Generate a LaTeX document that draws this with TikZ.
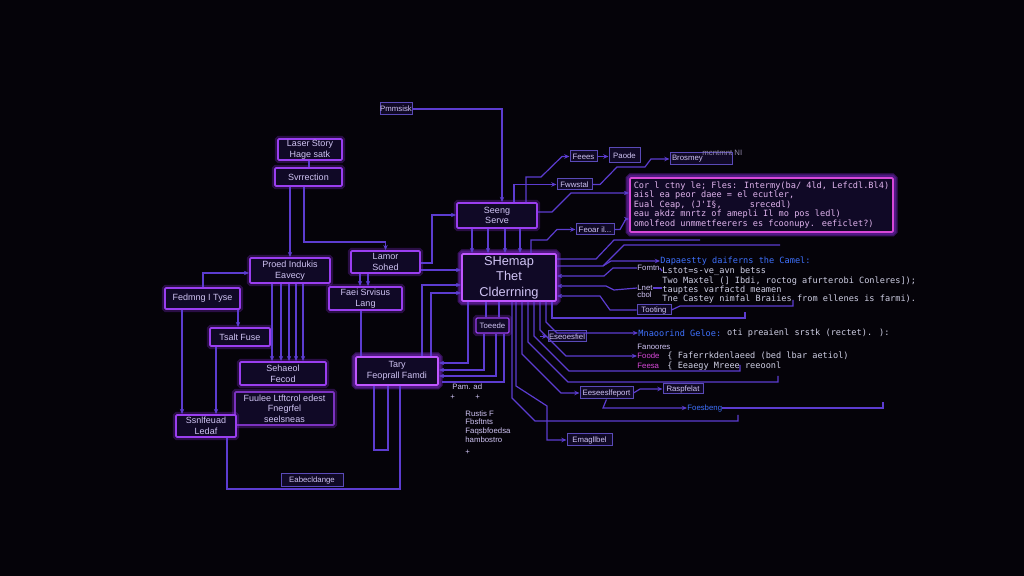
\documentclass[tikz,border=0pt]{standalone}
\usepackage{fontspec}
\setmainfont{Liberation Sans}
\newfontfamily\monof{DejaVu Sans Mono}
\usetikzlibrary{arrows.meta}
\definecolor{bgc}{HTML}{050309}
\definecolor{boxf}{HTML}{100926}
\definecolor{boxc}{HTML}{9a3ef0}
\definecolor{brc}{HTML}{c056ff}
\definecolor{glowc}{HTML}{8a2be2}
\definecolor{thinc}{HTML}{5a4ab8}
\definecolor{linec}{HTML}{5c3cd0}
\definecolor{txtc}{HTML}{d0c4f4}
\definecolor{codec}{HTML}{e0b4ee}
\definecolor{rowc}{HTML}{cfcfe4}
\definecolor{bluec}{HTML}{3f72ff}
\definecolor{magc}{HTML}{d848d8}
\newcommand{\bxf}{\fontsize{4.5}{5.3}\selectfont}
\newcommand{\smf}{\fontsize{3.9}{4.4}\selectfont}
\newcommand{\rowf}{\monof\fontsize{4.3}{4.7}\selectfont}
\tikzset{
  bx/.style={draw=boxc, fill=boxf, line width=0.9pt, inner sep=0pt, align=center, text=txtc, font=\bxf, rounded corners=0.6pt,
    preaction={draw=glowc, line width=3.2pt, draw opacity=0.28}},
  brt/.style={bx, draw=brc, preaction={draw=glowc, line width=4.5pt, draw opacity=0.4}},
  thn/.style={draw=thinc, fill=boxf, line width=0.5pt, inner sep=0pt, align=center, text=txtc, font=\smf},
  ln/.style={draw=linec, line width=0.6pt},
  ar/.style={ln, -{Stealth[length=2.6pt,width=2.2pt]}},
  rowt/.style={inner sep=0pt, anchor=west, font=\rowf, text=rowc},
  lab/.style={inner sep=0pt, anchor=west, font=\smf, text=txtc}
}
\begin{document}
\begin{tikzpicture}[x=0.5pt,y=-0.5pt]
\fill[bgc] (0,0) rectangle (1024,576);
\useasboundingbox (0,0) rectangle (1024,576);

% ---------- nodes ----------
\node[thn, minimum width=16pt, minimum height=6pt] (pmm) at (396,109) {Pmmsisk};
\node[bx, minimum width=32pt, minimum height=10.5pt] (laser) at (310,149.5) {Laser Story\\Hage satk};
\node[bx, minimum width=33.5pt, minimum height=9pt] (svr) at (308.5,177) {Svrrection};
\node[bx, minimum width=40pt, minimum height=12.5pt] (proed) at (290,270.5) {Proed Indukis\\Eavecy};
\node[bx, minimum width=34.5pt, minimum height=11pt] (lamor) at (385.5,262) {Lamor\\Sohed};
\node[bx, minimum width=37.5pt, minimum height=10.5pt] (fedmng) at (202.5,298.5) {Fedmng I Tyse};
\node[bx, minimum width=36.5pt, minimum height=11.5pt] (faei) at (365.5,298.5) {Faei Srvisus\\Lang};
\node[bx, minimum width=30pt, minimum height=9pt] (tsalt) at (240,337) {Tsalt Fuse};
\node[bx, minimum width=43pt, minimum height=11.5pt] (sehaeol) at (283,373.5) {Sehaeol\\Fecod};
\node[bx, draw=boxc!80!black, minimum width=49.5pt, minimum height=16.5pt] (fuulee) at (284.5,408.5) {Fuulee Ltftcrol edest\\Fnegrfel\\seelsneas};
\node[bx, minimum width=30pt, minimum height=11pt] (ssnle) at (206,426) {Ssnlfeuad\\Ledaf};
\node[thn, minimum width=31pt, minimum height=6.5pt] (eabe) at (312,480.5) {Eabecldange};
\node[brt, minimum width=41pt, minimum height=14pt] (tary) at (397,371) {Tary\\Feoprall Famdi};
\node[bx, minimum width=40pt, minimum height=12.5pt] (seeng) at (497,215.5) {Seeng\\Serve};
\node[brt, minimum width=47pt, minimum height=23.5pt, font=\fontsize{6.4}{7.8}\selectfont] (main) at (509,277.5) {SHemap\\Thet\\Clderrning};
\node[bx, line width=0.6pt, minimum width=16.5pt, minimum height=7.5pt, font=\smf] (toeede) at (492.5,325.5) {Toeede};
\node[brt, draw=magc, minimum width=131.5pt, minimum height=27pt, align=left, text=codec, font=\rowf] (code) at (761.5,205)
 {Cor l ctny le; Fles: Intermy(ba/ 4ld, Lefcdl.Bl4)\\
  aisl ea peor daee = el ecutler,\\
  Eual Ceap, (J'I§,{\hspace{14pt}}srecedl)\\
  eau akdz mnrtz of amepli Il mo pos ledl)\\
  omolfeod unmmetfeerers es fcoonupy. eeficlet?)};
\node[thn, minimum width=13.5pt, minimum height=5.5pt] (feees) at (583.5,156.5) {Feees};
\node[thn, minimum width=15.5pt, minimum height=7.5pt] (paode) at (624.5,155.5) {Paode};
\node[thn, minimum width=31pt, minimum height=6pt, text width=29pt, align=left] (brosmey) at (701,159) {Brosmey};
\node[lab, text=txtc!70!black] (mcnt) at (702,153) {mcntmnt NI};
\node[thn, minimum width=17.5pt, minimum height=5.5pt] (fwws) at (574.5,184.5) {Fwwstal};
\node[thn, minimum width=19pt, minimum height=5.5pt] (feoar) at (595,229.5) {Feoar il...};
\node[thn, minimum width=17pt, minimum height=5pt] (tooting) at (654,310) {Tooting};
\node[thn, minimum width=19pt, minimum height=5.5pt] (esees) at (567,336.5) {Eseoesfiel};
\node[thn, minimum width=26.5pt, minimum height=6pt] (ssxt) at (606.5,393) {Eeseeslfeport};
\node[thn, minimum width=20pt, minimum height=5pt] (rasp) at (683,389) {Raspfelat};
\node[thn, minimum width=22.5pt, minimum height=6pt] (emag) at (589.5,440) {Emagllbel};

% right-hand text rows
\node[rowt, text=bluec] (dapa) at (660,261) {Dapaestty daiferns the Camel:};
\node[rowt] (row1) at (662,271) {Lstot=s-ve\_avn betss};
\node[rowt] (row2) at (662,281) {Two Maxtel (] Ibdi, roctog afurterobi Conleres]);};
\node[rowt] (row3) at (662,290) {tauptes varfactd meamen};
\node[rowt] (row4) at (662,299) {Tne Castey nimfal Braiies from ellenes is farmi).};
\node[lab] (fomtn) at (637,268) {Fomtn};
\node[lab] (lnet) at (637,288) {Lnet};
\node[lab] (cbol) at (637,295) {cbol};
\node[rowt, text=bluec] (mnao) at (638,333) {Mnaoorind Geloe:};
\node[rowt] (mnaot) at (mnao.east) {\ oti preaienl srstk (rectet). ):};
\node[lab] (fano) at (637,347) {Fanoores};
\node[rowt, text=magc, font=\smf] (foode) at (637,356) {Foode};
\node[rowt] (foodet) at (667,356) {\{ Faferrkdenlaeed (bed lbar aetiol)};
\node[rowt, text=magc, font=\smf] (feesa) at (637,366) {Feesa};
\node[rowt] (feesat) at (667,366) {\{ Eeaegy Mreee reeoonl};
\node[rowt, text=bluec, font=\smf] (foes) at (687,408) {Foesbeng};

% small text near Tary
\node[lab] (pam) at (452,387) {Pam. ad};
\node[lab] (pl1) at (450,397) {+};
\node[lab] (pl2) at (475,397) {+};
\node[lab, align=left, anchor=north west] (rust) at (465,410) {Rustis F\\Fbsftnts\\Faqsbfoedsa\\hambostro};
\node[lab] (pl3) at (465,452) {+};

% ---------- connectors: left cluster ----------
\draw[ln] (laser.south -| 309,0) -- (svr.north -| 309,0);
\draw[ar] (svr.south -| 290,0) -- (proed.north -| 290,0);
\draw[ar] (svr.south -| 304,0) -- (304,242) -| (lamor.north);
\draw[ar] (pmm.east) -- (502,109) -- (seeng.north -| 502,0);
\foreach \x in {272,281,289,296,303} \draw[ar] (proed.south -| \x,0) -- (sehaeol.north -| \x,0);
\draw[ar] (fedmng.north -| 203,0) -- (203,273) -- (proed.west |- 0,273);
\draw[ar] (fedmng.south -| 182,0) -- (ssnle.north -| 182,0);
\draw[ar] (tsalt.south -| 216,0) -- (ssnle.north -| 216,0);
\draw[ar] (fedmng.south -| 238,0) -- (tsalt.north -| 238,0);
\draw[ar] (lamor.south -| 360,0) -- (faei.north -| 360,0);
\draw[ar] (lamor.south -| 368,0) -- (faei.north -| 368,0);
\draw[ln] (faei.south -| 361,0) -- (tary.north -| 361,0);
\draw[ln] (ssnle.south -| 227,0) -- (227,489) -- (400,489) -- (tary.south -| 400,0);
\draw[ln] (tary.south -| 374,0) -- (374,450) -- (388,450) -- (tary.south -| 388,0);
\draw[ar] (lamor.east |- 0,263) -- (432,263) -- (432,215) -- (seeng.west |- 0,215);
\draw[ar] (lamor.east |- 0,270) -- (main.west |- 0,270);
\draw[ar] (tary.north -| 422,0) -- (422,285) -- (main.west |- 0,285);
\draw[ar] (tary.north -| 431,0) -- (431,293) -- (main.west |- 0,293);
\foreach \x in {472,488,505,520} \draw[ar] (seeng.south -| \x,0) -- (main.north -| \x,0);
\draw[ln] (main.south -| 486,0) -- (toeede.north -| 486,0);
\draw[ln] (main.south -| 499,0) -- (toeede.north -| 499,0);
\draw[ar] (main.south -| 468,0) -- (468,363) -- (tary.east |- 0,363);
\draw[ar] (toeede.south -| 484,0) -- (484,370) -- (tary.east |- 0,370);
\draw[ar] (toeede.south -| 496,0) -- (496,376) -- (tary.east |- 0,376);
\draw[ln] (toeede.south -| 504,0) -- (504,382) -- (442,382);

% ---------- connectors: top right ----------
\draw[ar] (seeng.north -| 514,0) -- (514,184.5) -- (fwws.west);
\draw[ar] (seeng.north -| 526,0) -- (526,177) -- (541,177) -- (562,156.5) -- (feees.west);
\draw[ar] (feees.east) -- (paode.west |- feees.east);
\draw[ar] (fwws.east) -- (600,184.5) -- (617,167) -- (645,167) -- (651,159) -- (brosmey.west);
\draw[ar] (seeng.east |- 0,212) -- (552,212) -- (571,193) -- (code.west |- 0,193);
\draw[ar] (main.north -| 531,0) -- (531,240) -- (547,240) -- (557,229.5) -- (feoar.west);
\draw[ar] (feoar.east) -- (620,229.5) -- (626,219) -- (code.west |- 0,219);
\draw[ln] (main.east |- 0,259) -- (596,259) -- (614,240) -- (700,240);
\draw[ar] (main.east |- 0,266) -- (603,266) -- (611,261) -- (dapa.west);
\draw[ln] (603,266) -- (624,245) -- (780,245);
\draw[ar] (fomtn.west) -- (613,268) -- (604,276) -- (main.east |- 0,276);
\draw[ln] (fomtn.east) -- (row1.west);
\draw[ar] (lnet.west) -- (614,290) -- (606,286) -- (main.east |- 0,286);
\draw[ln] (lnet.east) -- (row3.west |- lnet.east);
\draw[ar] (tooting.west) -- (610,310) -- (600,296) -- (main.east |- 0,296);
\draw[ln] (tooting.east) -- (680,306) -- (793,306) -- (793,300);
\draw[ln] (main.south -| 552,0) -- (552,318) -- (745,318) -- (745,312);

% ---------- connectors: bottom right ----------
\draw[ar] (main.south -| 546,0) -- (546,322) -- (557,333) -- (mnao.west);
\draw[ar] (main.south -| 540,0) -- (540,330) -- (566,356) -- (foode.west);
\draw[ar] (540,336.5) -- (esees.west);
\draw[ln] (main.south -| 534,0) -- (534,336) -- (569,371) -- (740,371) -- (740,365);
\draw[ln] (main.south -| 528,0) -- (528,342) -- (568,382) -- (778,382) -- (778,376);
\draw[ar] (main.south -| 522,0) -- (522,354) -- (561,393) -- (ssxt.west);
\draw[ar] (ssxt.east) -- (640,389) -- (rasp.west);
\draw[ar] (ssxt.south) -- (603,408) -- (foes.west);
\draw[ln] (foes.east) -- (883,408) -- (883,402);
\draw[ln] (main.south -| 512,0) -- (512,398) -- (535,421) -- (738,421) -- (738,415);
\draw[ar] (main.south -| 516,0) -- (516,386) -- (547,406) -- (547,440) -- (emag.west);
\end{tikzpicture}
\end{document}
